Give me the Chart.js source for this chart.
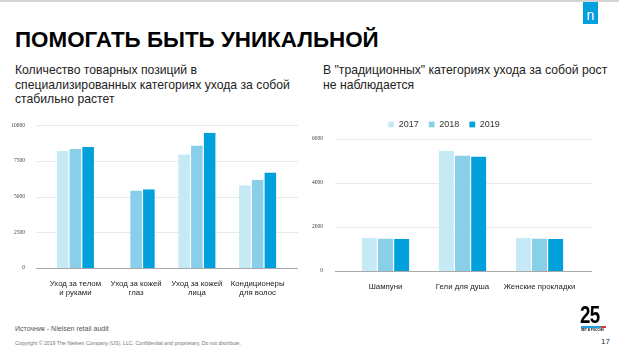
<!DOCTYPE html>
<html>
<head>
<meta charset="utf-8">
<script src="https://cdn.jsdelivr.net/npm/chart.js@4/dist/chart.umd.min.js"></script>
<style>
  html, body { margin: 0; padding: 0; background: #fff; }
  body { width: 619px; height: 362px; position: relative; overflow: hidden; font-family: "Liberation Sans", Arial, sans-serif; }
  .abs { position: absolute; white-space: nowrap; }
  #topline { left: 0; top: 0; width: 619px; height: 2px; background: #d4d4d4; }
  #logo { left: 583px; top: 2px; width: 15px; height: 22px; background: #00a0df; color: #fff; font-size: 14px; line-height: 14px; text-align: center; }
  #logo span { position: absolute; left: 0; right: 0; bottom: 2px; }
  #title { left: 15px; top: 29px; font-size: 22.4px; line-height: 22px; font-weight: bold; color: #000; }
  .sub { top: 63px; font-size: 12.2px; line-height: 14.5px; color: #222; }
  #subL { left: 15px; }
  #subR { left: 323px; }
  #boxL { left: 0; top: 110px; width: 310px; height: 200px; }
  #boxR { left: 310px; top: 110px; width: 309px; height: 200px; }
  #src { left: 15px; top: 324px; font-size: 7px; line-height: 10px; color: #555; }
  #copy { left: 15px; top: 340px; font-size: 5.2px; line-height: 6px; color: #777; }
  #page { left: 601px; top: 337px; font-size: 8px; line-height: 10px; color: #1d2b4f; }
  #big { left: 580px; top: 303px; font-size: 24px; line-height: 24px; font-weight: bold; color: #000; transform: scaleX(0.78); transform-origin: left top; letter-spacing: -1px; }
  #strip { left: 581px; top: 326px; width: 25px; height: 1.5px; background: linear-gradient(90deg, #1fa0e0 0 80%, #e3343c 80% 100%); }
  #years { left: 581px; top: 328px; font-size: 3px; line-height: 4px; color: #000; font-weight: bold; }
</style>
</head>
<body>
<div class="abs" id="topline"></div>
<div class="abs" id="logo"><span>n</span></div>
<div class="abs" id="title">ПОМОГАТЬ БЫТЬ УНИКАЛЬНОЙ</div>
<div class="abs sub" id="subL">Количество товарных позиций в<br>специализированных категориях ухода за собой<br>стабильно растет</div>
<div class="abs sub" id="subR">В "традиционных" категориях ухода за собой рост<br>не наблюдается</div>
<div class="abs" id="boxL"><canvas id="chartL"></canvas></div>
<div class="abs" id="boxR"><canvas id="chartR"></canvas></div>
<div class="abs" id="src">Источник - Nielsen retail audit</div>
<div class="abs" id="copy">Copyright © 2019 The Nielsen Company (US), LLC. Confidential and proprietary. Do not distribute.</div>
<div class="abs" id="page">17</div>
<div class="abs" id="big">25</div>
<div class="abs" id="strip"></div>
<div class="abs" id="years">ЛЕТ В РОССИИ</div>

<script>
const years = ['2017', '2018', '2019'];
const colors = ['#c6e9f6', '#89cfea', '#00a0dc'];

// left chart: specialised categories
const leftCategories = [['Уход за телом', 'и руками'], ['Уход за кожей', 'глаз'], ['Уход за кожей', 'лица'], ['Кондиционеры', 'для волос']];
const left2017 = [8200, null, 7970, 5800];
const left2018 = [8340, 5430, 8590, 6190];
const left2019 = [8480, 5520, 9470, 6700];
const leftTicks = [0, 2500, 5000, 7500, 10000];

// right chart: traditional categories
const rightCategories = ['Шампуни', 'Гели для душа', 'Женские прокладки'];
const right2017 = [1510, 5470, 1510];
const right2018 = [1480, 5250, 1480];
const right2019 = [1450, 5200, 1450];
const rightTicks = [0, 2000, 4000, 6000];

Chart.defaults.font.family = '"Liberation Sans", Arial, sans-serif';
Chart.defaults.animation = false;

// gridlines a little wider than the plot area, like the original
const extGrid = {
    id: 'extGrid',
    beforeDatasetsDraw(chart, args, opts) {
        const ctx = chart.ctx;
        const y = chart.scales.y;
        ctx.save();
        ctx.lineWidth = 1;
        y.ticks.forEach(t => {
            const py = Math.round(y.getPixelForValue(t.value)) + 0.5;
            ctx.strokeStyle = t.value === 0 ? '#a9a9a9' : '#e8e8e8';
            ctx.beginPath();
            ctx.moveTo(opts.left, py);
            ctx.lineTo(opts.right, py);
            ctx.stroke();
        });
        ctx.restore();
    }
};

function makeDatasets(series) {
    return series.map((data, i) => ({
        label: years[i],
        data,
        backgroundColor: colors[i],
        borderColor: '#fff',
        borderWidth: { left: 0.6, right: 0.6, top: 0, bottom: 0 },
        borderSkipped: 'bottom',
        categoryPercentage: 0.63,
        barPercentage: 1
    }));
}

function makeChart(canvas, labels, series, ticks, cfg) {
    return new Chart(canvas, {
        type: 'bar',
        data: { labels, datasets: makeDatasets(series) },
        plugins: [extGrid],
        options: {
            responsive: true,
            maintainAspectRatio: false,
            layout: { padding: cfg.padding },
            plugins: {
                extGrid: cfg.grid,
                tooltip: { enabled: false },
                legend: cfg.legend
            },
            scales: {
                x: {
                    grid: { display: false },
                    border: { display: false },
                    ticks: {
                        color: '#222',
                        font: { size: 7.8 },
                        padding: cfg.xPad,
                        maxRotation: 0,
                        autoSkip: false
                    },
                    afterFit: s => { s.height = cfg.xHeight; }
                },
                y: {
                    min: 0,
                    max: ticks[ticks.length - 1],
                    afterBuildTicks: s => { s.ticks = ticks.map(v => ({ value: v })); },
                    grid: { display: false },
                    border: { display: false },
                    ticks: {
                        color: '#444',
                        font: { size: 5.5, family: '"Liberation Serif", serif' },
                        padding: cfg.yPad,
                        callback: v => String(v)
                    },
                    afterFit: s => { s.width = cfg.yWidth; }
                }
            }
        }
    });
}

makeChart(document.getElementById('chartL'), leftCategories, [left2017, left2018, left2019], leftTicks, {
    padding: { top: 14, right: 22, bottom: 0, left: 0 },
    grid: { left: 36, right: 298 },
    legend: { display: false },
    xPad: 3,
    xHeight: 42,
    yPad: 12,
    yWidth: 45
});

makeChart(document.getElementById('chartR'), rightCategories, [right2017, right2018, right2019], rightTicks, {
    padding: { top: 0, right: 41, bottom: 0, left: 0 },
    grid: { left: 25, right: 282 },
    legend: {
        display: true,
        position: 'top',
        labels: {
            color: '#333',
            font: { size: 9 },
            boxWidth: 6,
            boxHeight: 6,
            padding: 10
        }
    },
    xPad: 3,
    xHeight: 39,
    yPad: 16,
    yWidth: 37
});
</script>
</body>
</html>
